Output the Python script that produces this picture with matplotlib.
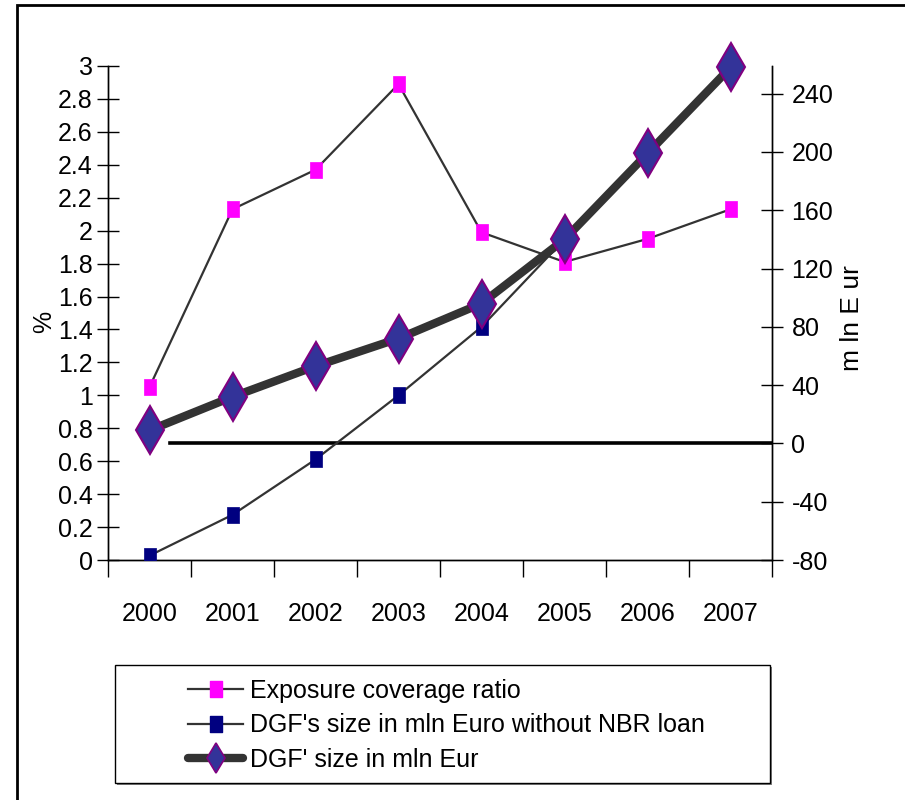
import numpy as np
import matplotlib
matplotlib.use('Agg')
import matplotlib.pyplot as plt
from matplotlib.patches import Rectangle
from matplotlib.path import Path
from matplotlib.lines import Line2D

plt.rcParams['font.family'] = ['Liberation Sans Narrow', 'Liberation Sans', 'DejaVu Sans']

years = ['2000', '2001', '2002', '2003', '2004', '2005', '2006', '2007']
coverage_pct = [1.05, 2.13, 2.37, 2.89, 1.99, 1.81, 1.95, 2.13]
dgf_no_nbr = [-77, -49, -11, 33, 80, 140, 199, 257]
dgf_size = [9, 32, 53, 72, 96, 140, 199, 258]

left_ticks = np.round(np.arange(0, 3.01, 0.2), 1)
right_ticks = np.arange(-80, 241, 40)

FS = 18
W, H = 905, 800
fig = plt.figure(figsize=(W / 100, H / 100), dpi=100)
ax = fig.add_axes([108 / W, 1 - 560 / H, 664 / W, 494 / H])
ax2 = ax.twinx()

# tall rectangle marker like the excel squares
rect = Path([(-0.35, -0.5), (0.35, -0.5), (0.35, 0.5), (-0.35, 0.5), (-0.35, -0.5)],
            [Path.MOVETO, Path.LINETO, Path.LINETO, Path.LINETO, Path.CLOSEPOLY])

x = np.arange(len(years))
ax.plot(x, coverage_pct, color='#333333', lw=1.6, marker=rect, ms=12,
        mfc='#FF00FF', mec='#FF00FF', mew=0.5, zorder=3)
ax2.plot(x, dgf_no_nbr, color='#333333', lw=1.6, marker=rect, ms=12,
         mfc='#000080', mec='#000080', mew=0.5, zorder=3)
ax2.plot(x, dgf_size, color='#333333', lw=6, marker='d', ms=24.5,
         mfc='#333399', mec='#800080', mew=1.5, zorder=4, solid_capstyle='round',
         clip_on=False)
ax2.axhline(0, xmin=(170 - 108) / 664, xmax=1, color='black', lw=2.6, zorder=2)

ax.set_xlim(-0.5, len(years) - 0.5)
ax.set_ylim(0, 3)
ax2.set_ylim(-80, 259)

ax.set_yticks(left_ticks)
ax.set_yticklabels([f'{v:g}' for v in left_ticks])
ax2.set_yticks(right_ticks)
ax2.set_yticklabels([str(v) for v in right_ticks])

ax.set_xticks(x)
ax.set_xticklabels(years)
ax.set_xticks(np.arange(-0.5, len(years)), minor=True)
ax.tick_params(axis='x', which='major', length=0, pad=30, labelsize=FS)
ax.tick_params(axis='x', which='minor', length=12, width=1, direction='out')
ax.tick_params(axis='y', length=16, width=1, direction='inout', pad=3, labelsize=FS)
ax2.tick_params(axis='y', length=16, width=1, direction='inout', pad=6, labelsize=FS)

for a in (ax, ax2):
    a.spines['top'].set_visible(False)
    for s in ('left', 'right', 'bottom'):
        a.spines[s].set_linewidth(1)
    a.patch.set_visible(False)

fig.text(44 / W, 1 - 322 / H, '%', rotation=90, ha='center', va='center', fontsize=FS)
fig.text(852 / W, 1 - 318 / H, 'm ln E ur', rotation=90, ha='center', va='center', fontsize=FS + 1)

# legend box with shadow
fig.add_artist(Rectangle((117 / W, 1 - 785 / H), 655 / W, 118 / H, transform=fig.transFigure,
                         facecolor='#808080', edgecolor='none', zorder=1))
fig.add_artist(Rectangle((115 / W, 1 - 783 / H), 655 / W, 118 / H, transform=fig.transFigure,
                         facecolor='white', edgecolor='black', lw=1, zorder=2))
handles = [
    Line2D([], [], color='#333333', lw=1.6, marker=rect, ms=12, mfc='#FF00FF', mec='#FF00FF'),
    Line2D([], [], color='#333333', lw=1.6, marker=rect, ms=12, mfc='#000080', mec='#000080'),
    Line2D([], [], color='#333333', lw=6, marker='d', ms=15, mfc='#333399', mec='#800080',
           mew=1.2, solid_capstyle='round'),
]
labels = ['Exposure coverage ratio', "DGF's size in mln Euro without NBR loan",
          "DGF' size in mln Eur"]
leg = fig.legend(handles, labels, loc='upper left', bbox_to_anchor=(188 / W, 1 - 679 / H),
                 frameon=False, fontsize=FS, handlelength=2.2, handletextpad=0.28,
                 labelspacing=0.42, borderpad=0, borderaxespad=0)
leg.set_zorder(3)

# outer frame
fig.add_artist(Rectangle((17 / W, -0.1), 2, 1.1 - 5 / H, transform=fig.transFigure,
                         fill=False, edgecolor='black', lw=2))

fig.savefig('out.png', dpi=100)
